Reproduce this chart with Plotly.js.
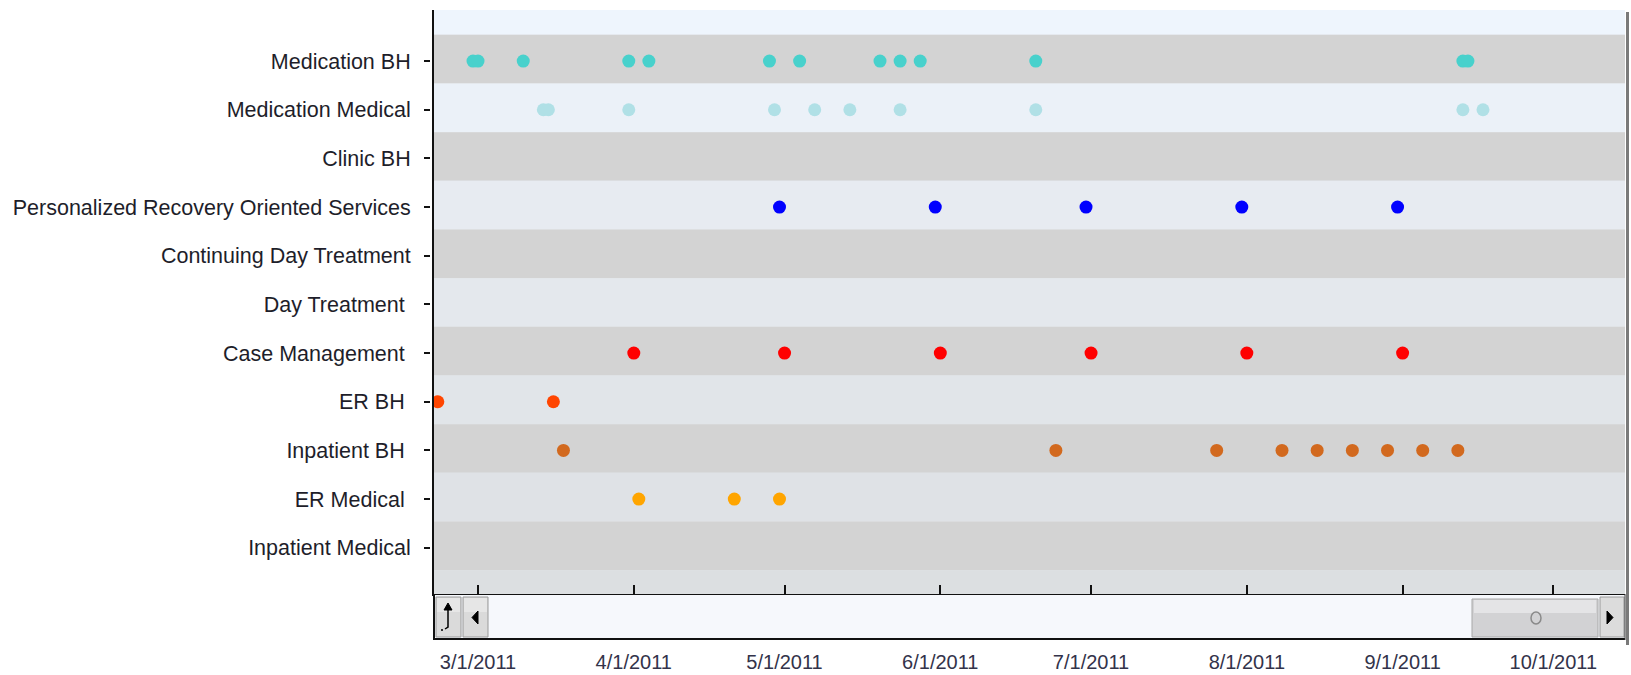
<!DOCTYPE html>
<html>
<head>
<meta charset="utf-8">
<script src="https://cdn.plot.ly/plotly-3.0.1.min.js"></script>
<style>html,body{margin:0;padding:0;background:#fff;}#chart{width:1631px;height:675px;}</style>
</head>
<body>
<div id="chart"></div>
<script>
// ---- data ----
const categories = ["Medication BH","Medication Medical","Clinic BH","Personalized Recovery Oriented Services","Continuing Day Treatment","Day Treatment\u00a0","Case Management\u00a0","ER BH\u00a0","Inpatient BH\u00a0","ER Medical\u00a0","Inpatient Medical"];

const medicationBH = ["2011-02-28","2011-03-01","2011-03-10","2011-03-31","2011-04-04","2011-04-28","2011-05-04","2011-05-20","2011-05-24","2011-05-28","2011-06-20","2011-09-13","2011-09-14"];
const medicationMedical = ["2011-03-14","2011-03-15","2011-03-31","2011-04-29","2011-05-07","2011-05-14","2011-05-24","2011-06-20","2011-09-13","2011-09-17"];
const personalizedRecovery = ["2011-04-30","2011-05-31","2011-06-30","2011-07-31","2011-08-31"];
const caseManagement = ["2011-04-01","2011-05-01","2011-06-01","2011-07-01","2011-08-01","2011-09-01"];
const erBH = ["2011-02-21","2011-03-16"];
const inpatientBH = ["2011-03-18","2011-06-24","2011-07-26","2011-08-08","2011-08-15","2011-08-22","2011-08-29","2011-09-05","2011-09-12"];
const erMedical = ["2011-04-02","2011-04-21","2011-04-30"];

const xRange = ["2011-02-20 05:45","2011-10-15 06:15"];

// ---- series definitions ----
const series = [
  {cat: 0, dates: medicationBH, color: "#48d1cc"},
  {cat: 1, dates: medicationMedical, color: "#b0e0e6"},
  {cat: 3, dates: personalizedRecovery, color: "#0000ff"},
  {cat: 6, dates: caseManagement, color: "#ff0000"},
  {cat: 7, dates: erBH, color: "#ff4500"},
  {cat: 8, dates: inpatientBH, color: "#d2691e"},
  {cat: 9, dates: erMedical, color: "#ffa500"}
];

const traces = series.map(s => ({
  type: "scatter", mode: "markers",
  x: s.dates, y: s.dates.map(() => categories[s.cat]),
  marker: {color: s.color, size: 13, line: {width: 0}},
  hoverinfo: "x+y", showlegend: false
}));
traces.push({type: "scatter", mode: "markers", x: [], y: [], xaxis: "x2", yaxis: "y2", showlegend: false, hoverinfo: "skip"});

// ---- geometry helpers (pixel -> paper) ----
const W = 1631, H = 675, ML = 430, MR = 6, MT = 10, MB = 35;
const PW = W - ML - MR, PH = H - MT - MB;
const px = x => (x - ML) / PW;
const py = y => (H - MB - y) / PH;

const xDom = [px(434), 1];
const yDom = [py(594), 1];

const shapes = [];
// background bands
const n = categories.length;
const lightColors = ["#ebf1f8", "#e7ebf1", "#e4e8ed", "#e1e5e9", "#dfe2e6"];
shapes.push({type: "rect", layer: "below", xref: "paper", yref: "y", x0: xDom[0], x1: 1, y0: -1.05, y1: -0.54, fillcolor: "#eef5fd", line: {width: 0}});
for (let i = 0; i < n; i++) {
  const col = (i % 2 === 0) ? "#d3d3d3" : lightColors[(i - 1) / 2];
  shapes.push({type: "rect", layer: "below", xref: "paper", yref: "y", x0: xDom[0], x1: 1, y0: i - 0.54, y1: i + 0.46, fillcolor: col, line: {width: 0}});
}
shapes.push({type: "rect", layer: "below", xref: "paper", yref: "y", x0: xDom[0], x1: 1, y0: n - 0.54, y1: n - 0.05, fillcolor: "#dcdfe1", line: {width: 0}});

function rectPx(x0, y0, x1, y1, fill, lineColor, lw) {
  shapes.push({type: "rect", xref: "paper", yref: "paper", x0: px(x0), x1: px(x1), y0: py(y1), y1: py(y0),
    fillcolor: fill, line: {color: lineColor || "rgba(0,0,0,0)", width: lw || 0}});
}
function linePx(x0, y0, x1, y1, color, lw) {
  shapes.push({type: "line", xref: "paper", yref: "paper", x0: px(x0), x1: px(x1), y0: py(y0), y1: py(y1), line: {color: color, width: lw}});
}
function pathPx(pts, fill, lineColor, lw, close) {
  let d = pts.map((p, k) => (k ? "L" : "M") + px(p[0]) + "," + py(p[1])).join(" ");
  if (close) d += " Z";
  shapes.push({type: "path", xref: "paper", yref: "paper", path: d, fillcolor: fill || "rgba(0,0,0,0)", line: {color: lineColor || "rgba(0,0,0,0)", width: lw || 0}});
}

// scrollbar
rectPx(434, 595, 1625, 639, "#f6f8fc");
rectPx(436, 597, 461, 637, "#dadada", "#9a9a9a", 1);
rectPx(437, 598, 460, 612, "#e6e6e6");
rectPx(463, 597, 488, 637, "#dadada", "#9a9a9a", 1);
rectPx(464, 598, 487, 612, "#e6e6e6");
rectPx(1472, 599, 1598, 637, "#d2d2d4", "#a8a8a8", 1);
rectPx(1474, 600, 1596, 613, "#e4e4e6");
rectPx(1600, 597, 1624, 637, "#dcdcdc", "#9a9a9a", 1);
shapes.push({type: "circle", xref: "paper", yref: "paper", x0: px(1531), x1: px(1541), y0: py(624), y1: py(612), line: {color: "#8a8a8a", width: 1.5}, fillcolor: "rgba(0,0,0,0)"});
pathPx([[1607, 611], [1613, 617.5], [1607, 624]], "#000", "#000", 1, true);
pathPx([[478, 611], [472, 617.5], [478, 624]], "#000", "#000", 1, true);
pathPx([[444, 610], [448, 603], [452, 610]], "#000", "#000", 1, true);
pathPx([[448, 609], [448, 627], [445, 629]], null, "#000", 1.5, false);
rectPx(441, 629, 443, 631, "#333");
linePx(434, 639, 1625, 639, "#111", 2);
linePx(434, 594, 434, 640, "#111", 2);
linePx(1625, 594, 1625, 640, "#333", 1);
// right shadow
linePx(1627.5, 12, 1627.5, 645, "#7a7a7a", 3);

const layout = {
  width: W, height: H,
  margin: {l: ML, r: MR, t: MT, b: MB, pad: 0},
  paper_bgcolor: "#ffffff",
  plot_bgcolor: "#e4e8ed",
  showlegend: false,
  font: {family: "Liberation Sans, Arial, sans-serif", color: "#222"},
  xaxis: {
    type: "date", domain: xDom, anchor: "y", range: xRange,
    tick0: "2011-03-01", dtick: "M1",
    ticks: "inside", ticklen: 9, tickwidth: 2, tickcolor: "#111",
    showticklabels: false, showgrid: false, zeroline: false,
    showline: true, linecolor: "#111", linewidth: 2, fixedrange: true
  },
  xaxis2: {
    type: "date", domain: xDom, overlaying: "x", anchor: "free", position: 0, side: "bottom",
    range: xRange, tick0: "2011-03-01", dtick: "M1", tickformat: "%-m/%-d/%Y",
    ticks: "", showgrid: false, zeroline: false, showline: false,
    tickfont: {family: "Liberation Sans, Arial, sans-serif", size: 20, color: "#33334a"},
    ticklabelstandoff: 8, fixedrange: true
  },
  yaxis: {
    type: "category", domain: yDom, anchor: "x",
    categoryorder: "array", categoryarray: categories,
    range: [n - 0.05, -1.05],
    showticklabels: false, ticks: "", showgrid: false, zeroline: false,
    showline: true, linecolor: "#111", linewidth: 2, fixedrange: true
  },
  yaxis2: {
    type: "linear", domain: yDom, overlaying: "y", anchor: "free", position: 0, side: "left",
    range: [n - 0.05, -1.05],
    tickmode: "array", tickvals: categories.map((c, i) => i), ticktext: categories,
    ticks: "outside", ticklen: 6, tickwidth: 2, tickcolor: "#111",
    showgrid: false, zeroline: false, showline: false,
    tickfont: {family: "Liberation Sans, Arial, sans-serif", size: 21.5, color: "#1e1e2a"},
    ticklabelstandoff: 9, fixedrange: true
  },
  shapes: shapes
};

Plotly.newPlot("chart", traces, layout, {displayModeBar: false, responsive: false});
</script>
</body>
</html>
